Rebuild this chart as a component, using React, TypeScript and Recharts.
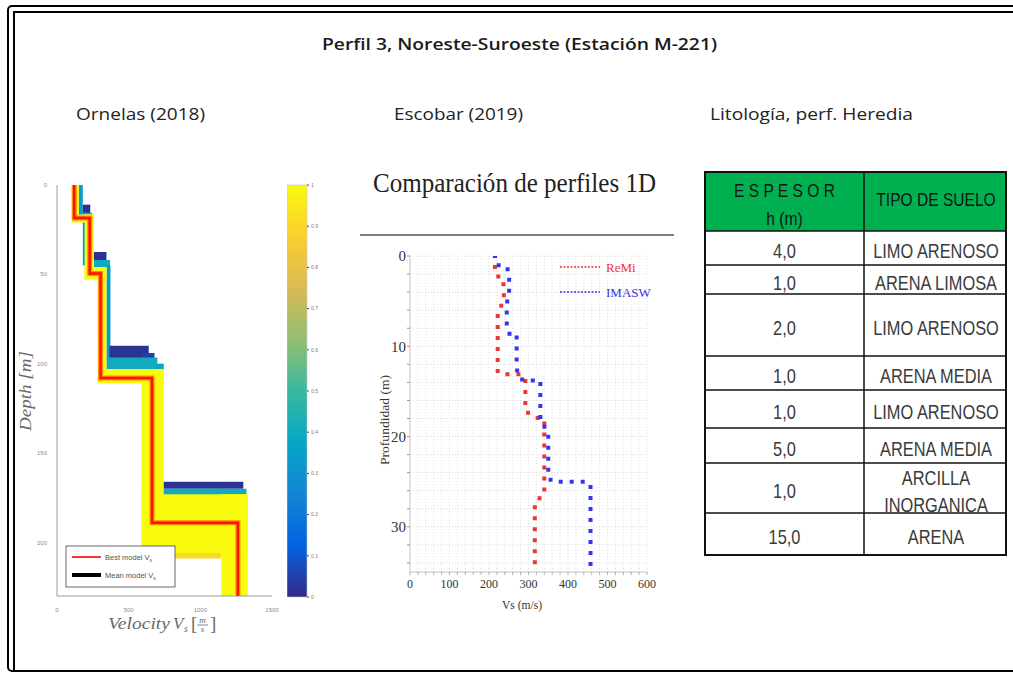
import React from 'react';
import { ScatterChart, Scatter, XAxis, YAxis, ReferenceArea, CartesianGrid, BarChart, Bar } from 'recharts';

// ---- Ornelas (2018): best model Vs profile (m/s) and layer interfaces (m)
const bestModelVs = [120, 228, 304, 663, 1262];
const bestModelInterfaces = [18.5, 49.5, 108, 189];
const ornelasMaxDepth = 230;
const ornelasVelTicks = [0, 500, 1000, 1500];
const ornelasDepthTicks = [0, 50, 100, 150, 200];

// ensemble of inverted models: [vMin, vMax, depthTop, depthBottom, misfit]
const ensembleBlocks = [
  [152, 180, 0, 17, 0.33],
  [180, 232, 11, 16, 0.02],
  [180, 245, 15.5, 19, 0.4],
  [180, 195, 19, 45, 0.33],
  [255, 345, 37.5, 42.5, 0.02],
  [258, 370, 42, 46, 0.4],
  [345, 373, 45, 98, 0.33],
  [366, 640, 90, 97, 0.02],
  [600, 680, 94, 100, 0.05],
  [345, 700, 96.5, 103, 0.4],
  [690, 745, 100, 106, 0.36],
  [740, 1300, 166, 170, 0.02],
  [740, 1322, 170, 173.5, 0.4],
  [590, 1147, 206, 209, 0.9],
  [104, 152, 0, 20, 1],
  [104, 256, 16.5, 21, 1],
  [193, 256, 16.5, 52, 1],
  [193, 345, 46, 53, 1],
  [283, 345, 46, 111, 1],
  [290, 745, 103, 111, 1],
  [590, 745, 103, 206, 1],
  [590, 1330, 173, 206, 1],
  [1147, 1330, 173, 230, 1],
];

const colorbarTicks = [0, 0.1, 0.2, 0.3, 0.4, 0.5, 0.6, 0.7, 0.8, 0.9, 1];
const colorbarData = [{ name: 'misfit', v: 1 }];

// ---- Escobar (2019): 1D Vs profiles
const remiVs = [215, 215, 219, 236, 238, 222, 222, 236, 276, 292, 292, 305, 326, 340, 340, 329, 316, 316];
const remiDepth = [0, 1.5, 2.2, 2.5, 4.8, 6.4, 12.8, 13.1, 13.1, 13.5, 17.1, 17.6, 18.0, 18.1, 26.4, 26.8, 27.3, 35];
const imaswVs = [215, 220, 243, 251, 251, 245, 245, 251, 270, 270, 274, 287, 330, 330, 342, 350, 350, 360, 443, 457, 457];
const imaswDepth = [0, 1.0, 1.1, 1.8, 4.4, 5.2, 7.9, 8.6, 8.6, 12.4, 13.3, 13.8, 13.8, 18.3, 19.0, 19.7, 24.5, 25.0, 25.0, 25.3, 35];
const escobarVelTicks = [0, 20, 40, 60, 80, 100, 120, 140, 160, 180, 200, 220, 240, 260, 280, 300, 320, 340, 360, 380, 400, 420, 440, 460, 480, 500, 520, 540, 560, 580, 600];
const escobarDepthTicks = [0, 2, 4, 6, 8, 10, 12, 14, 16, 18, 20, 22, 24, 26, 28, 30, 32, 34];
const escobarSeries = [
  { name: 'ReMi', color: '#ee3535', vs: remiVs, depth: remiDepth },
  { name: 'IMASW', color: '#3535ee', vs: imaswVs, depth: imaswDepth },
];

// ---- Litología, perf. Heredia
const espesor = ['4,0', '1,0', '2,0', '1,0', '1,0', '5,0', '1,0', '15,0'];
const tipoSuelo = [['LIMO ARENOSO'], ['ARENA LIMOSA'], ['LIMO ARENOSO'], ['ARENA MEDIA'], ['LIMO ARENOSO'], ['ARENA MEDIA'], ['ARCILLA', 'INORGANICA'], ['ARENA']];

const parulaStops = ['#352a87', '#0363e1', '#1485d4', '#06a7c6', '#38b99e', '#92bf73', '#d9ba56', '#fcce2e', '#f9fb0e'];

function parula(t: number) {
  const n = parulaStops.length - 1;
  const p = Math.max(0, Math.min(1, t)) * n;
  const i = Math.min(n - 1, Math.floor(p));
  const f = p - i;
  const a = parulaStops[i], b = parulaStops[i + 1];
  const ch = (s: string, k: number) => parseInt(s.slice(1 + 2 * k, 3 + 2 * k), 16);
  const c = [0, 1, 2].map((k) => Math.round(ch(a, k) + (ch(b, k) - ch(a, k)) * f));
  return `rgb(${c[0]},${c[1]},${c[2]})`;
}

const bestModelPts = (() => {
  const pts = [{ v: bestModelVs[0], d: 0 }];
  bestModelInterfaces.forEach((d, i) => {
    pts.push({ v: bestModelVs[i], d });
    pts.push({ v: bestModelVs[i + 1], d });
  });
  pts.push({ v: bestModelVs[bestModelVs.length - 1], d: ornelasMaxDepth });
  return pts;
})();

const noShape = () => <g />;

function OrnelasChart() {
  const tick = { fontSize: 6, fill: '#8c8c8c', fontFamily: 'Liberation Sans' };
  return (
    <div style={{ position: 'absolute', left: 0, top: 170 }}>
      <ScatterChart width={300} height={470} margin={{ top: 15, right: 28, bottom: 0, left: 0 }}>
        <XAxis type="number" dataKey="v" domain={[0, 1500]} ticks={ornelasVelTicks} allowDataOverflow height={44} interval={0}
          tick={tick} tickLine={false} axisLine={{ stroke: '#9a9a9a' }} tickMargin={6} />
        <YAxis type="number" dataKey="d" domain={[0, ornelasMaxDepth]} reversed ticks={ornelasDepthTicks} allowDataOverflow width={57} interval={0}
          tick={tick} tickLine={false} axisLine={{ stroke: '#9a9a9a' }} tickMargin={4} />
        {ensembleBlocks.map(([v1, v2, d1, d2, m], i) => (
          <ReferenceArea key={i} x1={v1} x2={v2} y1={d1} y2={d2} fill={parula(m)} fillOpacity={1} stroke="none" />
        ))}
        <Scatter data={bestModelPts} fill="#ff8a00" line={{ stroke: '#ff8a00', strokeWidth: 5 }} lineType="joint" shape={noShape} isAnimationActive={false} />
        <Scatter data={bestModelPts} fill="#ff1000" line={{ stroke: '#ff1000', strokeWidth: 2.4 }} lineType="joint" shape={noShape} isAnimationActive={false} />
      </ScatterChart>
    </div>
  );
}

function Colorbar() {
  return (
    <div style={{ position: 'absolute', left: 287, top: 180 }}>
      <BarChart width={40} height={421} data={colorbarData} margin={{ top: 5, right: 0, bottom: 4, left: 0 }} barCategoryGap={0}>
        <XAxis dataKey="name" hide />
        <YAxis orientation="right" type="number" domain={[0, 1]} ticks={colorbarTicks} width={20} axisLine={false} interval={0}
          tickLine={{ stroke: '#444' }} tickSize={2} tickMargin={2}
          tick={{ fontSize: 5, fill: '#777', fontFamily: 'Liberation Sans' }} />
        <Bar dataKey="v" fill="url(#parulaGrad)" stroke="#c8c8c8" strokeWidth={0.6} isAnimationActive={false} />
      </BarChart>
    </div>
  );
}

function EscobarChart() {
  return (
    <div style={{ position: 'absolute', left: 360, top: 240 }}>
      <ScatterChart width={320} height={380} margin={{ top: 16, right: 33, bottom: 0, left: 0 }}>
        <CartesianGrid stroke="#dedede" strokeDasharray="1 2" />
        <XAxis type="number" dataKey="v" domain={[0, 600]} ticks={escobarVelTicks} allowDataOverflow height={48} interval={0}
          tickFormatter={(v: number) => (v % 100 === 0 ? String(v) : '')}
          tick={{ fontSize: 12, fill: '#333', fontFamily: 'Liberation Serif' }}
          axisLine={{ stroke: '#c8c8c8' }} tickLine={{ stroke: '#b0b0b0' }} tickSize={3} tickMargin={4} />
        <YAxis type="number" dataKey="d" domain={[0, 35]} reversed ticks={escobarDepthTicks} allowDataOverflow width={50} interval={0}
          tickFormatter={(v: number) => (v % 10 === 0 ? String(v) : '')}
          tick={{ fontSize: 15, fill: '#333', fontFamily: 'Liberation Serif' }}
          axisLine={{ stroke: '#c8c8c8' }} tickLine={{ stroke: '#999' }} tickSize={3} tickMargin={1} />
        {escobarSeries.map((s) => (
          <Scatter key={s.name} name={s.name} data={s.vs.map((v, i) => ({ v, d: s.depth[i] }))} fill={s.color}
            line={{ stroke: s.color, strokeWidth: 4, strokeDasharray: '0 11', strokeLinecap: 'square' }}
            lineType="joint" shape={noShape} isAnimationActive={false} />
        ))}
      </ScatterChart>
    </div>
  );
}

const tableCols = [705, 864, 1006];
const tableRows = [172, 231, 265, 294, 356, 390, 428, 463, 513, 555];
const narrow = 0.82;

function NarrowText({ x, y, children, fill, size = 20 }: any) {
  return (
    <g transform={`translate(${x},${y}) scale(${narrow},1)`}>
      <text textAnchor="middle" fontFamily="Liberation Sans" fontSize={size} fill={fill}>{children}</text>
    </g>
  );
}

function Overlay() {
  const c1 = (tableCols[0] + tableCols[1]) / 2;
  const c2 = (tableCols[1] + tableCols[2]) / 2 + 1;
  return (
    <svg width={1013} height={673} style={{ position: 'absolute', left: 0, top: 0, pointerEvents: 'none' }}>
      <defs>
        <linearGradient id="parulaGrad" x1="0" y1="1" x2="0" y2="0">
          {parulaStops.map((c, i) => <stop key={i} offset={i / (parulaStops.length - 1)} stopColor={c} />)}
        </linearGradient>
      </defs>
      {/* headings */}
      <text x={519.5} y={50} textAnchor="middle" fontFamily="Open Sans" fontWeight={600} fontSize={16} fill="#1a1a1a" textLength={395} lengthAdjust="spacingAndGlyphs">Perfil 3, Noreste-Suroeste (Estación M-221)</text>
      <text x={76} y={120} fontFamily="Open Sans" fontSize={16} fill="#222" textLength={129} lengthAdjust="spacingAndGlyphs">Ornelas (2018)</text>
      <text x={394} y={120} fontFamily="Open Sans" fontSize={16} fill="#222" textLength={129} lengthAdjust="spacingAndGlyphs">Escobar (2019)</text>
      <text x={710} y={120} fontFamily="Open Sans" fontSize={16} fill="#222" textLength={203} lengthAdjust="spacingAndGlyphs">Litología, perf. Heredia</text>

      {/* Ornelas labels and legend */}
      <text transform="translate(31,391) rotate(-90)" textAnchor="middle" fontFamily="Liberation Serif" fontStyle="italic" fontSize={17} fill="#6a6a6a" textLength={80} lengthAdjust="spacingAndGlyphs">Depth [m]</text>
      <text x={108} y={629} fontFamily="Liberation Serif" fontStyle="italic" fontSize={17} fill="#6a6a6a" textLength={62} lengthAdjust="spacingAndGlyphs">Velocity</text>
      <text x={173} y={629} fontFamily="Liberation Serif" fontStyle="italic" fontSize={17} fill="#6a6a6a">V</text>
      <text x={184} y={632} fontFamily="Liberation Serif" fontStyle="italic" fontSize={10} fill="#6a6a6a">s</text>
      <text x={191} y={630} fontFamily="Liberation Serif" fontSize={19} fill="#6a6a6a">[</text>
      <text x={202.5} y={623} textAnchor="middle" fontFamily="Liberation Serif" fontStyle="italic" fontSize={9} fill="#6a6a6a">m</text>
      <line x1={197} x2={208} y1={625} y2={625} stroke="#6a6a6a" strokeWidth={0.8} />
      <text x={202.5} y={632} textAnchor="middle" fontFamily="Liberation Serif" fontStyle="italic" fontSize={9} fill="#6a6a6a">s</text>
      <text x={210} y={630} fontFamily="Liberation Serif" fontSize={19} fill="#6a6a6a">]</text>

      <rect x={66} y={546} width={109} height={41} fill="#fff" stroke="#444" strokeWidth={0.8} />
      {[{ label: 'Best model V', color: '#ff1a1a', w: 1.8, y: 557 }, { label: 'Mean model V', color: '#000', w: 4, y: 575 }].map((l) => (
        <g key={l.label}>
          <line x1={72} x2={101} y1={l.y} y2={l.y} stroke={l.color} strokeWidth={l.w} />
          <text x={105} y={l.y + 2.5} fontFamily="Liberation Sans" fontSize={7.5} fill="#555">
            {l.label}<tspan fontSize={5} dy={2}>s</tspan>
          </text>
        </g>
      ))}

      {/* Escobar title and labels */}
      <text x={373} y={192} fontFamily="Liberation Serif" fontSize={28} fill="#222" textLength={283} lengthAdjust="spacingAndGlyphs">Comparación de perfiles 1D</text>
      <line x1={360} x2={674} y1={235} y2={235} stroke="#555" strokeWidth={1.5} />
      <text transform="translate(389,420) rotate(-90)" textAnchor="middle" fontFamily="Liberation Serif" fontSize={12} fill="#333" textLength={90} lengthAdjust="spacingAndGlyphs">Profundidad (m)</text>
      <text x={522} y={609} textAnchor="middle" fontFamily="Liberation Serif" fontSize={12} fill="#333" textLength={40} lengthAdjust="spacingAndGlyphs">Vs (m/s)</text>
      {escobarSeries.map((s, i) => (
        <g key={s.name}>
          <line x1={560} x2={600} y1={267 + i * 25} y2={267 + i * 25} stroke={s.color} strokeWidth={1.5} strokeDasharray="2 1.5" />
          <text x={606} y={272 + i * 25} fontFamily="Liberation Serif" fontSize={13} fill={s.color}>{s.name}</text>
        </g>
      ))}

      {/* Lithology table */}
      <rect x={tableCols[0]} y={tableRows[0]} width={tableCols[2] - tableCols[0]} height={tableRows[1] - tableRows[0]} fill="#00b050" />
      {tableRows.slice(1, -1).map((y) => (
        <line key={y} x1={tableCols[0]} x2={tableCols[2]} y1={y} y2={y} stroke="#111" strokeWidth={1.5} />
      ))}
      <line x1={tableCols[1]} x2={tableCols[1]} y1={tableRows[0]} y2={tableRows[tableRows.length - 1]} stroke="#111" strokeWidth={1.5} />
      <rect x={tableCols[0]} y={tableRows[0]} width={tableCols[2] - tableCols[0]} height={tableRows[tableRows.length - 1] - tableRows[0]} fill="none" stroke="#111" strokeWidth={2} />
      <NarrowText x={c1} y={197} fill="#151515" size={19}>E S P E S O R</NarrowText>
      <NarrowText x={c1} y={225} fill="#151515" size={19}>h (m)</NarrowText>
      <NarrowText x={c2} y={206} fill="#151515" size={19}>TIPO DE SUELO</NarrowText>
      {espesor.map((e, i) => {
        const mid = (tableRows[i + 1] + tableRows[i + 2]) / 2 + 3;
        const lines = tipoSuelo[i];
        return (
          <g key={i}>
            <NarrowText x={c1} y={mid + 7} fill="#3a3a3a">{e}</NarrowText>
            {lines.map((t, k) => (
              <NarrowText key={k} x={c2} y={mid + 7 + (k - (lines.length - 1) / 2) * 27} fill="#3a3a3a">{t}</NarrowText>
            ))}
          </g>
        );
      })}
    </svg>
  );
}

export default function App() {
  return (
    <div style={{ position: 'absolute', left: 0, top: 0, width: 1013, height: 673, background: '#fff', overflow: 'hidden' }}>
      <div style={{ position: 'absolute', left: 7, top: 5, width: 1040, height: 667, border: '2.5px solid #000', borderRadius: 5, boxSizing: 'border-box' }} />
      <div style={{ position: 'absolute', left: 13, top: 11, width: 1040, height: 661, borderLeft: '2.5px solid #000', borderTop: '2.5px solid #000', boxSizing: 'border-box' }} />
      <OrnelasChart />
      <Colorbar />
      <EscobarChart />
      <Overlay />
    </div>
  );
}
